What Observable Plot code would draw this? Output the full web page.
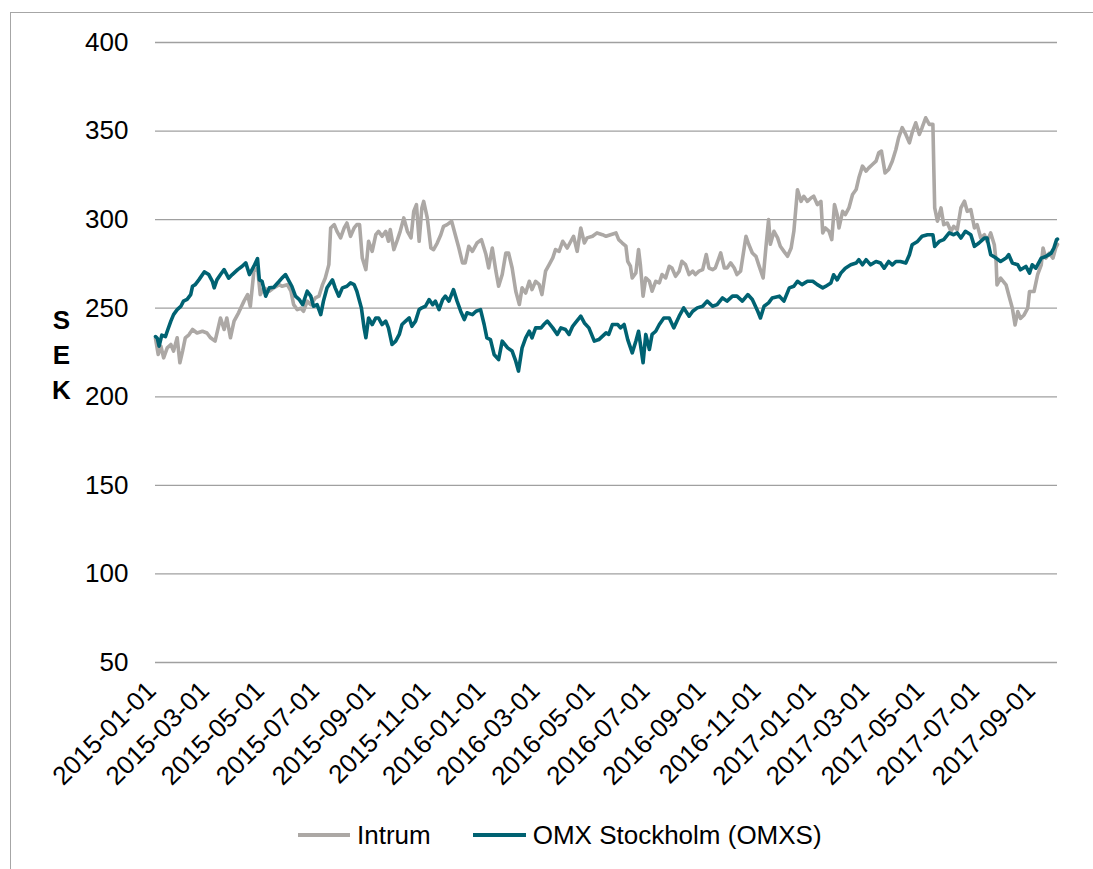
<!DOCTYPE html>
<html>
<head>
<meta charset="utf-8">
<script src="https://cdn.jsdelivr.net/npm/d3@7"></script>
<script src="https://cdn.jsdelivr.net/npm/@observablehq/plot@0.6"></script>
<style>
  body { margin: 0; background: #fff; font-family: "Liberation Sans", Arial, sans-serif; }
  #wrap { position: relative; width: 1093px; height: 869px; overflow: hidden; background: #fff; }
  #frame { position: absolute; left: 10px; top: 12px; width: 1200px; height: 900px; border-top: 1px solid #a6a6a6; border-left: 1px solid #a6a6a6; }
  #chart { position: absolute; left: 0; top: 0; }
  #legend { position: absolute; left: 298px; top: 820px; display: flex; align-items: center; font-size: 26px; line-height: 30px; color: #000; white-space: nowrap; }
  #legend .sw { display: inline-block; height: 4px; }
</style>
</head>
<body>
<div id="wrap">
  <div id="frame"></div>
  <div id="chart"></div>
  <div id="legend"></div>
</div>
<script>
// ---- Data ----
const seriesNames = ["Intrum", "OMX Stockholm (OMXS)"];
const seriesColors = ["#aca8a5", "#006272"];

const yTicks = [50, 100, 150, 200, 250, 300, 350, 400];
const xTicks = ["2015-01-01","2015-03-01","2015-05-01","2015-07-01","2015-09-01","2015-11-01",
  "2016-01-01","2016-03-01","2016-05-01","2016-07-01","2016-09-01","2016-11-01",
  "2017-01-01","2017-03-01","2017-05-01","2017-07-01","2017-09-01"];
const xDomain = ["2015-01-01", "2017-09-26"];

const intrumSeries = [
["2015-01-01",233],["2015-01-04",223.9],["2015-01-07",228.6],["2015-01-10",222],["2015-01-14",227.6],["2015-01-18",229.5],["2015-01-21",225.8],["2015-01-25",233.3],["2015-01-28",219.2],["2015-01-31",225.8],
["2015-02-03",233.3],["2015-02-07",235],["2015-02-11",238],["2015-02-16",236],["2015-02-22",237],["2015-02-27",236],["2015-03-03",233.3],["2015-03-08",231.4],["2015-03-14",244.5],["2015-03-18",238],
["2015-03-21",244.5],["2015-03-25",233.3],["2015-03-29",242.7],["2015-04-03",247.4],["2015-04-09",254],["2015-04-13",257.7],["2015-04-16",251],["2015-04-20",270.9],["2015-04-24",272.7],["2015-04-27",257.7],
["2015-05-01",261.5],["2015-05-07",259.6],["2015-05-12",261.5],["2015-05-18",263.3],["2015-05-21",262.4],["2015-05-27",263.3],["2015-05-31",259.6],["2015-06-03",252],["2015-06-07",249.2],["2015-06-11",250],
["2015-06-14",248.3],["2015-06-18",254],["2015-06-22",252],["2015-06-27",255.8],["2015-07-01",256.8],["2015-07-05",263.3],["2015-07-08",267],["2015-07-12",274.6],["2015-07-14",295.3],["2015-07-18",297.2],
["2015-07-21",293.4],["2015-07-25",289.7],["2015-07-29",295.3],["2015-08-01",298.1],["2015-08-05",290.6],["2015-08-09",295.3],["2015-08-12",297.2],["2015-08-15",297.2],["2015-08-18",278.4],["2015-08-22",271.8],
["2015-08-25",287.8],["2015-08-29",282.1],["2015-09-02",291.5],["2015-09-05",293.4],["2015-09-09",290.6],["2015-09-13",293.4],["2015-09-16",287.8],["2015-09-18",294.4],["2015-09-22",283.1],["2015-09-26",288.7],
["2015-09-29",293.4],["2015-10-03",301],["2015-10-07",293.4],["2015-10-11",289.7],["2015-10-14",304.7],["2015-10-17",308.5],["2015-10-20",287.8],["2015-10-23",306.6],["2015-10-25",310.3],["2015-10-29",301],
["2015-11-02",284],["2015-11-05",283.1],["2015-11-09",286.8],["2015-11-13",291.5],["2015-11-16",296.2],["2015-11-20",297.2],["2015-11-25",299.1],["2015-11-29",291.5],["2015-12-03",284],["2015-12-07",275.6],
["2015-12-10",275.6],["2015-12-14",285],["2015-12-18",282.1],["2015-12-23",286.8],["2015-12-28",288.7],["2016-01-02",280.3],["2016-01-05",272.7],["2016-01-09",284],["2016-01-13",270.9],["2016-01-16",262.4],
["2016-01-20",269],["2016-01-24",281.2],["2016-01-27",281.2],["2016-01-31",272.7],["2016-02-04",259.6],["2016-02-08",252.1],["2016-02-11",261.5],["2016-02-15",258.6],["2016-02-19",265.2],["2016-02-22",260.5],
["2016-02-26",265.2],["2016-03-01",263.3],["2016-03-04",257.7],["2016-03-08",270.9],["2016-03-12",274.6],["2016-03-16",278.4],["2016-03-19",283.1],["2016-03-23",282.1],["2016-03-27",287.8],["2016-04-01",284],
["2016-04-05",287.8],["2016-04-08",290.6],["2016-04-12",282.1],["2016-04-16",295.3],["2016-04-20",286.8],["2016-04-23",289.7],["2016-04-29",290.6],["2016-05-04",292.5],["2016-05-10",291.5],["2016-05-14",290.6],
["2016-05-19",291.5],["2016-05-25",292.5],["2016-05-28",288.7],["2016-06-01",286.8],["2016-06-05",285],["2016-06-07",276.5],["2016-06-10",273.7],["2016-06-12",267.1],["2016-06-16",269.9],["2016-06-19",283.1],
["2016-06-21",274.6],["2016-06-24",256.8],["2016-06-27",267.1],["2016-07-01",265.2],["2016-07-04",259.6],["2016-07-08",265.2],["2016-07-12",264.3],["2016-07-15",269],["2016-07-19",267.1],["2016-07-23",273.7],
["2016-07-26",272.7],["2016-07-30",268],["2016-08-03",270.9],["2016-08-06",276.5],["2016-08-10",274.6],["2016-08-14",269],["2016-08-18",270.9],["2016-08-21",269],["2016-08-25",270.9],["2016-08-29",271.8],
["2016-09-02",280.3],["2016-09-05",272.7],["2016-09-09",271.8],["2016-09-12",272.7],["2016-09-18",281.2],["2016-09-22",272.7],["2016-09-25",272.7],["2016-09-29",275.6],["2016-10-03",272.7],["2016-10-06",269],
["2016-10-10",270.9],["2016-10-16",290.6],["2016-10-19",286.1],["2016-10-23",281.2],["2016-10-27",279.3],["2016-10-30",274.6],["2016-11-04",267.1],["2016-11-07",284],["2016-11-10",300],["2016-11-12",286.1],
["2016-11-16",293.4],["2016-11-20",289.7],["2016-11-23",285],["2016-11-27",282.1],["2016-12-01",279.3],["2016-12-05",284],["2016-12-08",293.4],["2016-12-12",316.9],["2016-12-16",310.3],["2016-12-19",313.2],
["2016-12-23",310.3],["2016-12-27",312.2],["2016-12-30",313.2],["2017-01-03",308.5],["2017-01-07",310.3],["2017-01-09",292.5],["2017-01-12",295.3],["2017-01-16",293.4],["2017-01-19",288.7],["2017-01-22",308.5],
["2017-01-25",302.8],["2017-01-27",295.3],["2017-01-31",304.7],["2017-02-03",302.8],["2017-02-07",306.6],["2017-02-11",314.2],["2017-02-15",317],["2017-02-18",323.6],["2017-02-22",330.2],["2017-02-26",327.4],
["2017-03-01",329.2],["2017-03-05",331.1],["2017-03-09",333],["2017-03-12",337.7],["2017-03-15",338.7],["2017-03-19",326.4],["2017-03-23",328.3],["2017-03-27",333],["2017-03-31",339.6],["2017-04-03",346.2],
["2017-04-07",351.9],["2017-04-11",348.1],["2017-04-15",343.4],["2017-04-18",349.1],["2017-04-22",354.7],["2017-04-26",348.1],["2017-04-29",351.9],["2017-05-03",357.5],["2017-05-07",353.8],["2017-05-11",353.8],
["2017-05-12",329.2],["2017-05-13",306.6],["2017-05-16",299.1],["2017-05-20",306.6],["2017-05-23",297.2],["2017-05-27",298.1],["2017-05-31",293.4],["2017-06-03",296.2],["2017-06-07",294.3],["2017-06-11",306.6],
["2017-06-15",310.4],["2017-06-18",304.7],["2017-06-22",305.7],["2017-06-26",295.3],["2017-06-29",297.2],["2017-07-03",289.6],["2017-07-07",291.5],["2017-07-10",287.7],["2017-07-14",292.5],["2017-07-18",285.8],
["2017-07-20",276.4],["2017-07-21",263.2],["2017-07-25",267],["2017-07-31",263.2],["2017-08-03",257.5],["2017-08-07",250],["2017-08-10",240.6],["2017-08-13",248.1],["2017-08-16",244.3],["2017-08-20",246.2],
["2017-08-24",250],["2017-08-26",259.4],["2017-08-31",259.4],["2017-09-04",268.9],["2017-09-08",274.5],["2017-09-10",284],["2017-09-13",278.3],["2017-09-17",281.1],["2017-09-21",278.3],["2017-09-24",284],
["2017-09-26",286]
];

const omxSeries = [
["2015-01-01",234],["2015-01-03",233],["2015-01-05",228.6],["2015-01-08",234.8],["2015-01-12",234],["2015-01-14",237],["2015-01-18",242.7],["2015-01-21",246.4],["2015-01-25",249.2],["2015-01-29",251],
["2015-02-01",254],["2015-02-05",255],["2015-02-09",257.7],["2015-02-11",262.4],["2015-02-14",263.3],["2015-02-18",266],["2015-02-24",270.5],["2015-03-01",269],["2015-03-05",265.2],["2015-03-07",261.5],
["2015-03-10",266],["2015-03-14",269],["2015-03-18",271.8],["2015-03-23",267],["2015-03-27",269],["2015-04-02",271.8],["2015-04-07",273.7],["2015-04-11",275.6],["2015-04-15",269],["2015-04-20",273.7],
["2015-04-24",278],["2015-04-26",266],["2015-04-29",265.2],["2015-05-03",256.8],["2015-05-07",261.5],["2015-05-12",261.8],["2015-05-18",265.2],["2015-05-21",267],["2015-05-25",269],["2015-05-29",265.2],
["2015-06-01",262.4],["2015-06-05",256.8],["2015-06-09",255],["2015-06-13",252],["2015-06-18",259.6],["2015-06-22",256.8],["2015-06-25",251.1],["2015-06-29",252],["2015-07-03",246.4],["2015-07-06",254],
["2015-07-10",261.5],["2015-07-16",266],["2015-07-19",261.5],["2015-07-23",256.8],["2015-07-27",261.5],["2015-08-01",262.4],["2015-08-05",264.3],["2015-08-09",263.3],["2015-08-12",259.6],["2015-08-17",250.2],
["2015-08-20",239],["2015-08-22",233.3],["2015-08-25",244.5],["2015-08-29",240.8],["2015-09-02",244.5],["2015-09-05",244.5],["2015-09-09",240.8],["2015-09-13",242.7],["2015-09-16",238.9],["2015-09-20",229.5],
["2015-09-24",231.4],["2015-09-28",235.2],["2015-10-01",240.8],["2015-10-05",242.7],["2015-10-09",244.5],["2015-10-12",239.8],["2015-10-16",242.7],["2015-10-20",249.2],["2015-10-23",250.2],["2015-10-27",251.1],
["2015-10-31",254.9],["2015-11-04",252],["2015-11-07",254],["2015-11-11",249.2],["2015-11-15",254.9],["2015-11-18",256.8],["2015-11-22",254],["2015-11-27",260.5],["2015-12-01",254],["2015-12-05",248.3],
["2015-12-09",243.6],["2015-12-12",247.4],["2015-12-18",246.4],["2015-12-22",248.3],["2015-12-27",249.2],["2015-12-31",240.8],["2016-01-03",233.3],["2016-01-07",232.3],["2016-01-11",223.9],["2016-01-16",221],
["2016-01-20",231.4],["2016-01-26",227.6],["2016-01-31",225.8],["2016-02-04",220.1],["2016-02-07",214.5],["2016-02-11",227.6],["2016-02-15",233.3],["2016-02-19",237],["2016-02-22",233.3],["2016-02-26",238.9],
["2016-03-03",238.9],["2016-03-06",240.8],["2016-03-10",242.7],["2016-03-16",238.9],["2016-03-21",235.2],["2016-03-25",238.9],["2016-03-30",238],["2016-04-03",235.2],["2016-04-07",239.8],["2016-04-10",241.7],
["2016-04-16",245.5],["2016-04-20",241.7],["2016-04-25",238.9],["2016-05-01",231.4],["2016-05-06",232.3],["2016-05-14",236.1],["2016-05-17",235.2],["2016-05-21",240.8],["2016-05-27",240.8],["2016-05-30",238.9],
["2016-06-03",240.8],["2016-06-07",232.3],["2016-06-12",224.8],["2016-06-16",231.4],["2016-06-19",237],["2016-06-24",219.2],["2016-06-27",235.2],["2016-07-01",226.7],["2016-07-04",235.2],["2016-07-08",237],
["2016-07-12",240.8],["2016-07-17",244.5],["2016-07-23",244.5],["2016-07-28",238.9],["2016-08-03",245.5],["2016-08-08",250.2],["2016-08-14",245.5],["2016-08-18",248.3],["2016-08-23",250.2],["2016-08-29",251.1],
["2016-09-03",254],["2016-09-09",251.1],["2016-09-14",252],["2016-09-20",255.8],["2016-09-25",254],["2016-10-01",256.8],["2016-10-06",256.8],["2016-10-12",254],["2016-10-18",257.7],["2016-10-23",254.9],
["2016-10-29",248.3],["2016-11-01",244.5],["2016-11-05",251.1],["2016-11-10",253],["2016-11-14",255.8],["2016-11-22",256.8],["2016-11-27",254],["2016-12-03",261.5],["2016-12-08",262.4],["2016-12-12",265.2],
["2016-12-17",263.3],["2016-12-23",265.2],["2016-12-29",265.2],["2017-01-03",263.3],["2017-01-09",261.5],["2017-01-12",262.3],["2017-01-18",264.2],["2017-01-21",268.9],["2017-01-25",266],["2017-01-29",269.8],
["2017-02-03",272.6],["2017-02-09",274.5],["2017-02-15",275.5],["2017-02-18",277.4],["2017-02-22",274.5],["2017-02-26",277.4],["2017-03-03",274.5],["2017-03-09",276.4],["2017-03-14",275.5],["2017-03-18",272.6],
["2017-03-23",276.4],["2017-03-27",274.5],["2017-03-31",276.4],["2017-04-05",276.4],["2017-04-11",275.5],["2017-04-15",280.2],["2017-04-18",285.8],["2017-04-24",287.7],["2017-04-29",290.6],["2017-05-05",291.5],
["2017-05-11",291.5],["2017-05-13",284.9],["2017-05-18",287.7],["2017-05-23",288.7],["2017-05-29",292.5],["2017-06-03",291.5],["2017-06-07",292.5],["2017-06-11",289.6],["2017-06-16",293.4],["2017-06-22",291.5],
["2017-06-26",284.9],["2017-07-01",286.8],["2017-07-07",289.6],["2017-07-10",289.6],["2017-07-14",280.2],["2017-07-20",278.3],["2017-07-25",276.4],["2017-07-31",278.3],["2017-08-03",280.2],["2017-08-07",275.5],
["2017-08-13",274.5],["2017-08-16",271.7],["2017-08-22",273.6],["2017-08-26",269.8],["2017-08-29",274.5],["2017-09-02",272.6],["2017-09-08",278.3],["2017-09-13",279.2],["2017-09-19",281.1],["2017-09-22",284],
["2017-09-25",288.7],["2017-09-26",289]
];

const axisLetters = "S\nE\nK";

// ---- Build rows ----
const toRows = (arr, name) => arr.map(([d, v]) => ({date: new Date(d), value: v, series: name}));
const rows = [...toRows(intrumSeries, seriesNames[0]), ...toRows(omxSeries, seriesNames[1])];

const chart = Plot.plot({
  width: 1093,
  height: 800,
  marginLeft: 155,
  marginRight: 36,
  marginTop: 42,
  marginBottom: 138,
  style: {fontFamily: '"Liberation Sans", Arial, sans-serif', fontSize: "26px", color: "#000", background: "transparent", overflow: "visible"},
  x: {type: "utc", domain: xDomain.map(d => new Date(d))},
  y: {domain: [50, 400]},
  color: {domain: seriesNames, range: seriesColors},
  marks: [
    Plot.gridY(yTicks, {stroke: "#a0a0a0", strokeOpacity: 1, strokeWidth: 1.3}),
    Plot.axisY(yTicks, {tickSize: 0, tickPadding: 27, label: null, fill: "#000"}),
    Plot.axisX(xTicks.map(d => new Date(d)), {tickSize: 0, tickRotate: -45, tickPadding: 20, dx: -4, dy: 4, tickFormat: d3.utcFormat("%Y-%m-%d"), label: null, fill: "#000"}),
    Plot.line(rows, {x: "date", y: "value", z: "series", stroke: "series", strokeWidth: 3.6, strokeLinejoin: "round"}),
    Plot.text([axisLetters], {frameAnchor: "left", dx: -94, text: d => d, fontWeight: "bold", lineHeight: 1.35, textAnchor: "middle", fill: "#000"})
  ]
});
document.getElementById("chart").appendChild(chart);

// ---- Legend ----
const legend = document.getElementById("legend");
seriesNames.forEach((name, i) => {
  const sw = document.createElement("span");
  sw.className = "sw";
  sw.style.width = i === 0 ? "52px" : "53px";
  sw.style.background = seriesColors[i];
  sw.style.marginRight = "7px";
  const label = document.createElement("span");
  label.textContent = name;
  if (i === 0) label.style.marginRight = "42px";
  legend.appendChild(sw);
  legend.appendChild(label);
});
</script>
</body>
</html>
